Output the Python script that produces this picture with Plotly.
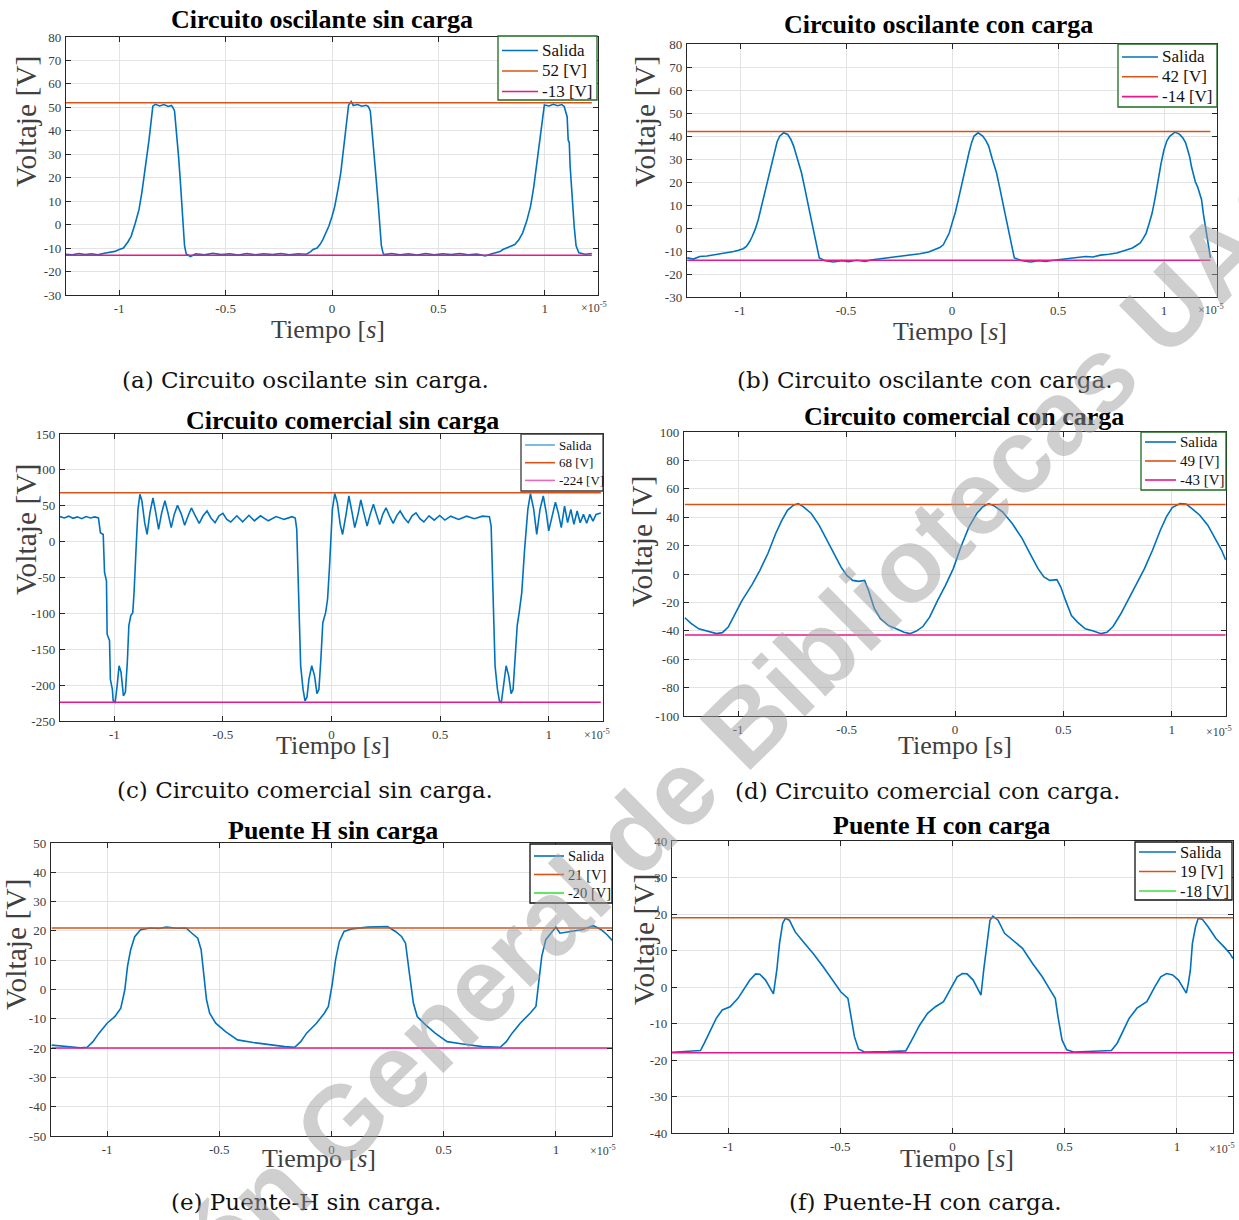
import plotly.graph_objects as go

W, H = 1239, 1220
BLUE = '#0072BD'
ORANGE = '#D95319'
MAGENTA = '#E8178A'
GREEN = '#3CE03C'
SERIF = 'Liberation Serif, Times New Roman, serif'

# ---------------- data (time in units of 1e-5 s, voltage in V) ----------------
a_pts = [(-1.25,-12.6),(-1.22,-12.9),(-1.19,-12.3),(-1.16,-12.8),(-1.13,-12.4),(-1.10,-12.9),(-1.07,-12.2),
         (-1.04,-11.8),(-1.02,-11.4),(-1.00,-10.6),(-0.98,-10.0),(-0.96,-7.5),(-0.944,-5.0),(-0.925,0.5),
         (-0.907,6.4),(-0.893,14),(-0.88,22),(-0.87,29),(-0.86,36),(-0.85,44),(-0.842,50.5),(-0.83,51.3),
         (-0.81,50.6),(-0.79,51.2),(-0.77,50.4),(-0.755,50.8),(-0.749,50.2),(-0.74,48.5),(-0.73,39),
         (-0.721,29),(-0.713,19),(-0.706,10.6),(-0.70,0.5),(-0.693,-9),(-0.685,-12.5),(-0.665,-13.6),
         (-0.64,-12.4),(-0.60,-12.9),(-0.56,-12.2),(-0.52,-12.8),(-0.48,-12.4),(-0.44,-13.0),(-0.40,-12.3),
         (-0.36,-12.9),(-0.32,-12.4),(-0.28,-12.8),(-0.24,-12.3),(-0.20,-12.9),(-0.16,-12.4),(-0.12,-12.6),
         (-0.10,-11.5),(-0.089,-10.6),(-0.07,-10.0),(-0.055,-8.3),(-0.043,-6.4),(-0.03,-4),(-0.015,-0.7),
         (0.0,3.5),(0.013,7.8),(0.028,15),(0.041,22),(0.05,29),(0.059,36),(0.068,44),(0.078,51),(0.09,52.5),
         (0.10,50.8),(0.12,51.2),(0.14,50.5),(0.16,50.9),(0.171,50.3),(0.18,48.5),(0.19,39),(0.199,29),
         (0.208,19),(0.217,9),(0.225,0),(0.232,-9),(0.24,-12.2),(0.245,-12.8),(0.28,-12.3),(0.32,-12.9),
         (0.36,-12.4),(0.40,-13.0),(0.44,-12.3),(0.48,-12.9),(0.52,-12.4),(0.56,-12.8),(0.60,-12.3),
         (0.64,-12.9),(0.68,-12.5),(0.72,-13.3),(0.76,-12.2),(0.79,-11.5),(0.803,-10.6),(0.83,-9.5),
         (0.859,-8.5),(0.878,-6.5),(0.896,-3.5),(0.915,1.5),(0.933,7.8),(0.948,16),(0.961,24.8),(0.97,32),
         (0.98,39),(0.99,45.5),(0.998,51),(1.02,50.6),(1.04,51.3),(1.06,50.7),(1.08,51.2),(1.091,50.4),
         (1.10,47),(1.105,46),(1.11,36),(1.115,35),(1.119,25),(1.128,10.6),(1.138,-0.7),(1.147,-9),
         (1.16,-12),(1.19,-12.6),(1.221,-12.3)]
a_levels = (52, -13)

b_pts = [(-1.249,-13),(-1.22,-13.5),(-1.19,-12.4),(-1.156,-12.2),(-1.12,-11.6),(-1.09,-11.2),(-1.063,-10.6),
         (-1.03,-10.2),(-1.007,-9.7),(-0.985,-9.0),(-0.97,-8),(-0.955,-6),(-0.942,-3.6),(-0.928,-0.5),
         (-0.914,3.6),(-0.895,11),(-0.877,18),(-0.858,26),(-0.84,32.7),(-0.825,37.5),(-0.812,40),
         (-0.794,41.4),(-0.775,40.7),(-0.76,38.5),(-0.747,35.6),(-0.728,30),(-0.71,24),(-0.696,18),
         (-0.682,12.4),(-0.668,5.5),(-0.654,-0.7),(-0.64,-7),(-0.626,-13),(-0.599,-14.2),(-0.56,-14.8),
         (-0.52,-14.2),(-0.487,-14.7),(-0.45,-14.0),(-0.41,-14.5),(-0.375,-13.8),(-0.34,-13.4),(-0.30,-13.0),
         (-0.264,-12.6),(-0.23,-12.2),(-0.19,-11.6),(-0.152,-11.2),(-0.11,-10.4),(-0.078,-9.2),(-0.058,-8.5),
         (-0.041,-7.3),(-0.027,-5),(-0.013,-2.2),(0.0,2),(0.015,6.5),(0.029,12),(0.043,18),(0.062,26),
         (0.08,32.7),(0.092,37),(0.104,40),(0.123,41.4),(0.145,40),(0.16,38),(0.173,35.6),(0.19,30),
         (0.21,24),(0.224,18),(0.238,12.4),(0.252,5.5),(0.266,-0.7),(0.28,-7),(0.294,-13),(0.331,-14.2),
         (0.37,-14.8),(0.41,-14.2),(0.442,-14.5),(0.48,-14.0),(0.52,-13.6),(0.554,-13.2),(0.59,-13.0),
         (0.63,-12.4),(0.665,-12.6),(0.70,-11.8),(0.74,-11.4),(0.777,-10.9),(0.815,-9.8),(0.851,-8.7),
         (0.87,-7.6),(0.888,-6.5),(0.902,-4.5),(0.916,-2.2),(0.93,2),(0.944,6.5),(0.958,13),(0.972,21),
         (0.986,28),(1.0,34),(1.014,38),(1.028,40),(1.052,41.7),(1.074,40.7),(1.09,39),(1.102,37),
         (1.112,34),(1.121,31),(1.13,26.5),(1.139,22.5),(1.148,20),(1.158,18),(1.168,15),(1.177,12.4),
         (1.186,6),(1.195,0.7),(1.202,-3.5),(1.208,-8),(1.214,-11),(1.219,-13)]
b_levels = (42, -14)

c_pts = [(-1.251,35),(-1.23,33),(-1.21,35.5),(-1.19,32.5),(-1.17,34.5),(-1.15,32),(-1.13,35),(-1.11,33),
         (-1.09,34.5),(-1.073,33),(-1.064,12.5),(-1.051,10),(-1.045,-43),(-1.036,-55),(-1.033,-129),
         (-1.022,-138),(-1.018,-192),(-1.009,-206),(-1.005,-222),(-0.996,-224),(-0.987,-201),(-0.978,-173),
         (-0.969,-182),(-0.958,-215),(-0.949,-210),(-0.94,-168),(-0.933,-117),(-0.924,-103),(-0.915,-99),
         (-0.909,-71),(-0.9,-11),(-0.891,45),(-0.882,66),(-0.873,57),(-0.86,26),(-0.849,10),(-0.836,40),
         (-0.822,61),(-0.809,40),(-0.796,17),(-0.782,40),(-0.767,57),(-0.753,40),(-0.738,19.5),(-0.724,38),
         (-0.709,50.6),(-0.691,38),(-0.676,22.7),(-0.66,36),(-0.645,46.9),(-0.627,36),(-0.609,25.5),
         (-0.591,36),(-0.573,42.7),(-0.555,33),(-0.536,26.4),(-0.518,36),(-0.5,39.4),(-0.482,31),
         (-0.464,27.4),(-0.436,36),(-0.409,27.5),(-0.38,36.7),(-0.355,29),(-0.327,36),(-0.291,29),
         (-0.255,35),(-0.218,31),(-0.182,34.8),(-0.167,33),(-0.16,17),(-0.151,-80),(-0.142,-173),
         (-0.131,-206),(-0.122,-222),(-0.113,-217),(-0.104,-192),(-0.091,-173),(-0.078,-187),(-0.067,-212),
         (-0.058,-206),(-0.049,-164),(-0.04,-113),(-0.027,-99),(-0.018,-80),(-0.009,-34),(0.004,45),
         (0.015,67),(0.027,54),(0.04,24),(0.051,10),(0.067,38),(0.08,63.6),(0.095,40),(0.107,19.5),
         (0.122,38),(0.135,58),(0.149,40),(0.164,21.8),(0.178,38),(0.193,52),(0.207,38),(0.222,24),
         (0.236,38),(0.251,47),(0.267,36),(0.284,25.5),(0.3,36),(0.316,42.7),(0.335,33),(0.353,26.4),
         (0.371,36),(0.389,40),(0.407,32),(0.425,27.4),(0.449,36),(0.473,30),(0.498,36.5),(0.522,30),
         (0.549,35.5),(0.585,31),(0.622,35.5),(0.658,32),(0.695,35.5),(0.727,34.8),(0.735,21.8),(0.744,-80),
         (0.753,-173),(0.764,-206),(0.773,-222),(0.782,-224),(0.791,-201),(0.804,-173),(0.816,-187),
         (0.827,-212),(0.836,-206),(0.845,-164),(0.855,-117),(0.864,-99),(0.876,-71),(0.889,-11),(0.904,45),
         (0.916,67),(0.931,45),(0.945,10),(0.96,45),(0.975,63.6),(0.989,40),(1.0,15),(1.016,38),(1.031,55),
         (1.044,40),(1.058,19.5),(1.073,49.6),(1.087,26.4),(1.102,45),(1.116,24),(1.131,42.7),(1.145,26.4),
         (1.16,38),(1.175,25.5),(1.189,38),(1.204,28.5),(1.218,38),(1.24,40)]
c_levels = (68, -224)

d_pts = [(-1.246,-30.8),(-1.219,-34.6),(-1.182,-38.6),(-1.146,-40.2),(-1.1,-42),(-1.073,-41.3),(-1.046,-37.4),
         (-1.018,-29.2),(-0.982,-18.6),(-0.936,-7.5),(-0.9,2.6),(-0.863,14.4),(-0.827,28.5),(-0.8,37.4),
         (-0.772,45),(-0.745,48.5),(-0.723,49.6),(-0.699,47.3),(-0.663,42.6),(-0.627,34.4),(-0.59,23.8),
         (-0.554,13.2),(-0.526,5),(-0.499,-1),(-0.472,-4.5),(-0.444,-5.2),(-0.417,-4.5),(-0.399,-11.5),
         (-0.372,-24.5),(-0.344,-31.5),(-0.308,-36.2),(-0.271,-38.6),(-0.235,-41),(-0.208,-42),(-0.18,-40.4),
         (-0.148,-37),(-0.117,-30.4),(-0.08,-18.6),(-0.044,-8),(-0.008,3.8),(0.027,19),(0.064,33),(0.1,42.6),
         (0.128,47.3),(0.155,49.6),(0.182,47.8),(0.219,43.8),(0.264,35.5),(0.31,24.9),(0.346,14.4),
         (0.383,3.8),(0.41,-2.1),(0.437,-4.5),(0.47,-4),(0.488,-9.2),(0.51,-18.6),(0.537,-29.2),
         (0.565,-33.9),(0.601,-38.6),(0.638,-40.2),(0.674,-42),(0.701,-41),(0.729,-37),(0.765,-28),
         (0.801,-17.4),(0.838,-6.8),(0.874,3.8),(0.911,16.7),(0.947,30.8),(0.975,40.2),(1.002,46.8),
         (1.038,49.6),(1.066,49.2),(1.093,46.1),(1.129,41.4),(1.166,34.4),(1.202,24.9),(1.23,16.7),(1.248,10)]
d_levels = (49, -43)

e_pts = [(-1.247,-19),(-1.20,-19.3),(-1.159,-19.5),(-1.12,-19.9),(-1.089,-19.7),(-1.063,-17.8),(-1.036,-14.9),
         (-1.0,-11.5),(-0.965,-9.2),(-0.939,-6.4),(-0.921,-0.1),(-0.909,7.9),(-0.895,13.6),(-0.877,18),
         (-0.851,20.4),(-0.807,21),(-0.77,20.8),(-0.736,21.3),(-0.69,20.9),(-0.648,21),(-0.622,19.2),
         (-0.596,17.5),(-0.581,13.6),(-0.569,4.4),(-0.557,-3.5),(-0.543,-8.1),(-0.516,-11.5),(-0.472,-14.4),
         (-0.419,-17.2),(-0.349,-18.1),(-0.278,-18.9),(-0.208,-19.5),(-0.164,-19.7),(-0.137,-17.8),
         (-0.111,-14.9),(-0.067,-11.5),(-0.032,-8.1),(-0.014,-5.8),(0.004,2.2),(0.018,10.1),(0.035,16.4),
         (0.056,19.8),(0.092,20.7),(0.162,21.3),(0.25,21.5),(0.285,19.8),(0.312,18.1),(0.33,15.8),
         (0.347,5.6),(0.365,-4.7),(0.382,-9.2),(0.418,-12),(0.462,-14.9),(0.515,-17.8),(0.585,-18.6),
         (0.673,-19.5),(0.752,-19.7),(0.779,-17.8),(0.805,-14.9),(0.841,-11.5),(0.885,-8.1),(0.911,-5.8),
         (0.923,2.2),(0.937,11.3),(0.955,17),(0.982,19.8),(1.0,21.3),(1.018,19.2),(1.062,19.8),(1.115,20.4),
         (1.15,21.3),(1.167,21.8),(1.202,20.4),(1.228,18.7),(1.251,16.7)]
e_levels = (21, -20)

f_pts = [(-1.252,-17.9),(-1.185,-17.6),(-1.123,-17.4),(-1.106,-15.4),(-1.079,-11.8),(-1.053,-8.6),(-1.026,-6.3),
         (-0.991,-5.4),(-0.956,-3.1),(-0.93,-0.8),(-0.903,1.9),(-0.877,3.6),(-0.859,3.5),(-0.833,1.9),
         (-0.806,-0.8),(-0.798,-1.9),(-0.783,4.6),(-0.771,11.9),(-0.757,17.4),(-0.745,18.8),(-0.727,18.3),
         (-0.701,15.1),(-0.665,12.4),(-0.621,9.2),(-0.577,5.6),(-0.533,1.9),(-0.498,-1.3),(-0.466,-3.1),
         (-0.454,-7.2),(-0.437,-13.6),(-0.419,-17),(-0.393,-17.8),(-0.287,-17.7),(-0.208,-17.5),(-0.181,-14.5),
         (-0.146,-10.4),(-0.111,-7.2),(-0.076,-5.4),(-0.04,-4),(-0.005,0.1),(0.021,2.8),(0.044,3.7),
         (0.065,3.6),(0.092,1.9),(0.118,-1.3),(0.127,-2.2),(0.139,4.6),(0.153,11.9),(0.167,18.3),(0.18,19.4),
         (0.203,18.3),(0.232,14.7),(0.276,12.4),(0.312,10.6),(0.356,6.5),(0.4,2.8),(0.435,-0.8),(0.458,-3.1),
         (0.47,-8.1),(0.488,-14.5),(0.509,-17.2),(0.54,-17.8),(0.628,-17.6),(0.708,-17.4),(0.734,-15.4),
         (0.761,-11.8),(0.787,-8.6),(0.822,-5.8),(0.866,-4),(0.902,0.1),(0.928,2.8),(0.954,3.7),(0.981,3.3),
         (1.007,1.9),(1.025,0.1),(1.042,-1.7),(1.051,1),(1.06,4.6),(1.069,11.9),(1.083,16.5),(1.095,18.8),
         (1.113,18.6),(1.139,16.5),(1.174,13.3),(1.21,11),(1.236,9.2),(1.25,7.8)]
f_levels = (19, -18)

x_ticks = [-1, -0.5, 0, 0.5, 1]
x_ticktext = ['-1', '-0.5', '0', '0.5', '1']
a_yticks = [-30, -20, -10, 0, 10, 20, 30, 40, 50, 60, 70, 80]
b_yticks = [-30, -20, -10, 0, 10, 20, 30, 40, 50, 60, 70, 80]
c_yticks = [-250, -200, -150, -100, -50, 0, 50, 100, 150]
d_yticks = [-100, -80, -60, -40, -20, 0, 20, 40, 60, 80, 100]
e_yticks = [-50, -40, -30, -20, -10, 0, 10, 20, 30, 40, 50]
f_yticks = [-40, -30, -20, -10, 0, 10, 20, 30, 40]

titles = ['Circuito oscilante sin carga', 'Circuito oscilante con carga',
          'Circuito comercial sin carga', 'Circuito comercial con carga',
          'Puente H sin carga', 'Puente H con carga']
captions = ['(a) Circuito oscilante sin carga.', '(b) Circuito oscilante con carga.',
            '(c) Circuito comercial sin carga.', '(d) Circuito comercial con carga.',
            '(e) Puente-H sin carga.', '(f) Puente-H con carga.']
xlabels = ['Tiempo [<i>s</i>]', 'Tiempo [<i>s</i>]', 'Tiempo [<i>s</i>]',
           'Tiempo [s]', 'Tiempo [<i>s</i>]', 'Tiempo [<i>s</i>]']
ylabel = 'Voltaje [V]'
watermark = 'Dirección General de Bibliotecas UAQ'

data = [(a_pts, a_levels, a_yticks), (b_pts, b_levels, b_yticks), (c_pts, c_levels, c_yticks),
        (d_pts, d_levels, d_yticks), (e_pts, e_levels, e_yticks), (f_pts, f_levels, f_yticks)]

# ---------------- layout (pixel geometry) ----------------
# box: x0, x1, y0(top), y1(bottom)
# leg: (x0, x1, y0, y1, first row y, row step, font size, border colour, sample line length)
geo = [
    dict(box=(66, 598, 37, 295), title=(322, 19), yl=(26, 122), xl=(328, 330), cap=(305, 380), x10=(594, 308),
         leg=(498, 597, 36, 100, 50.5, 20.5, 17, '#1E6B1E', 36), legcols=(BLUE, ORANGE, MAGENTA)),
    dict(box=(687, 1217, 44, 297), title=(938, 25), yl=(645, 122), xl=(950, 332), cap=(925, 380), x10=(1211, 310),
         leg=(1118, 1217, 44, 107, 57, 19.8, 17, '#1E6B1E', 36), legcols=(BLUE, ORANGE, MAGENTA)),
    dict(box=(60, 603, 434, 721), title=(342, 421), yl=(26, 530), xl=(333, 745), cap=(305, 790), x10=(597, 735),
         leg=(521, 603, 434, 491, 445, 17.7, 13, '#3A3A3A', 30), legcols=('#5DA9E0', ORANGE, '#EE6AAE')),
    dict(box=(684, 1226, 432, 716), title=(964, 417), yl=(642, 542), xl=(955, 745), cap=(927, 791), x10=(1219, 731),
         leg=(1141, 1226, 432, 490, 442, 19, 15, '#1E6B1E', 31), legcols=(BLUE, ORANGE, MAGENTA)),
    dict(box=(51, 612, 843, 1136), title=(333, 830), yl=(16, 945), xl=(319, 1158), cap=(306, 1202), x10=(603, 1150),
         leg=(530, 612, 844, 903, 856, 18.5, 14.5, '#111111', 30), legcols=(BLUE, ORANGE, GREEN)),
    dict(box=(672, 1233, 841, 1133), title=(941, 825), yl=(644, 940), xl=(957, 1158), cap=(925, 1202), x10=(1222, 1148),
         leg=(1135, 1232, 842, 900, 852, 19.5, 16.5, '#111111', 37), legcols=(BLUE, ORANGE, GREEN)),
]


def px(x):
    return x / W


def py(y):
    return 1 - y / H


def note(text, x, y, size, family=SERIF, color='#111111', angle=0, xanchor='center'):
    return dict(text=text, x=px(x), y=py(y), xref='paper', yref='paper', showarrow=False,
                xanchor=xanchor, yanchor='middle', textangle=angle,
                font=dict(family=family, size=size, color=color))


fig = go.Figure()
layout = {}
annotations = []
shapes = []

for i, ((pts, (hi, lo), yticks), g) in enumerate(zip(data, geo)):
    n = '' if i == 0 else str(i + 1)
    xa, ya = 'x' + n, 'y' + n
    t = [p[0] for p in pts]
    v = [p[1] for p in pts]
    t0, t1 = t[0], t[-1]

    fig.add_trace(go.Scatter(x=t, y=v, mode='lines', name='Salida', line=dict(color=BLUE, width=1.6),
                             xaxis=xa, yaxis=ya, showlegend=False))
    fig.add_trace(go.Scatter(x=[t0, t1], y=[hi, hi], mode='lines', name=f'{hi} [V]',
                             line=dict(color=ORANGE, width=1.5), xaxis=xa, yaxis=ya, showlegend=False))
    fig.add_trace(go.Scatter(x=[t0, t1], y=[lo, lo], mode='lines', name=f'{lo} [V]',
                             line=dict(color=MAGENTA, width=1.5), xaxis=xa, yaxis=ya, showlegend=False))

    x0, x1, y0, y1 = g['box']
    common = dict(showgrid=True, gridcolor='#E3E3E3', gridwidth=1, showline=True, mirror='ticks',
                  linecolor='#262626', linewidth=1.4, ticks='inside', ticklen=5, tickcolor='#262626',
                  tickfont=dict(family=SERIF, size=13, color='#3C3C3C'), zeroline=False, automargin=False)
    layout['xaxis' + n] = dict(domain=[px(x0), px(x1)], range=[-1.25, 1.25], anchor=ya,
                               tickmode='array', tickvals=x_ticks, ticktext=x_ticktext,
                               ticklabelstandoff=1, **common)
    layout['yaxis' + n] = dict(domain=[py(y1), py(y0)], range=[yticks[0], yticks[-1]], anchor=xa,
                               tickmode='array', tickvals=yticks, ticktext=[str(k) for k in yticks],
                               ticklabelstandoff=1, **common)

    # legend box (drawn as shapes + text)
    lx0, lx1, ly0, ly1, r0, step, fs, bc, ll = g['leg']
    shapes.append(dict(type='rect', xref='paper', yref='paper', x0=px(lx0), x1=px(lx1), y0=py(ly1),
                       y1=py(ly0), fillcolor='white', line=dict(color=bc, width=1.3), layer='above'))
    names = ['Salida', f'{hi} [V]', f'{lo} [V]']
    for k in range(3):
        ry = r0 + k * step
        shapes.append(dict(type='line', xref='paper', yref='paper', x0=px(lx0 + 4), x1=px(lx0 + 4 + ll),
                           y0=py(ry), y1=py(ry), line=dict(color=g['legcols'][k], width=1.6), layer='above'))
        annotations.append(note(names[k], lx0 + 6 + ll, ry, fs, color='#111111', xanchor='left'))

    annotations += [
        note('<b>' + titles[i] + '</b>', *g['title'], 26, color='black'),
        note(ylabel, *g['yl'], 29.5, color='#404040', angle=-90),
        note(xlabels[i], *g['xl'], 26, color='#404040'),
        note('×10<sup>-5</sup>', *g['x10'], 12, color='#404040'),
        note(captions[i], *g['cap'], 23, family='DejaVu Serif', color='#111111'),
    ]

# watermark
annotations.append(note('<b>' + watermark + '</b>', 628, 839, 105, family='Liberation Sans',
                        color='rgba(160,160,160,0.5)', angle=-44.6))

fig.update_layout(width=W, height=H, margin=dict(l=0, r=0, t=0, b=0, pad=0, autoexpand=False),
                  paper_bgcolor='white', plot_bgcolor='white', annotations=annotations, shapes=shapes,
                  showlegend=False, **layout)
fig.write_html('out.html', config={'displayModeBar': False}, post_script=(
    "document.body.style.margin='0px';var g=document.getElementById('{plot_id}');"
    "g.style.position='absolute';g.style.left='0px';g.style.top='0px';"))
